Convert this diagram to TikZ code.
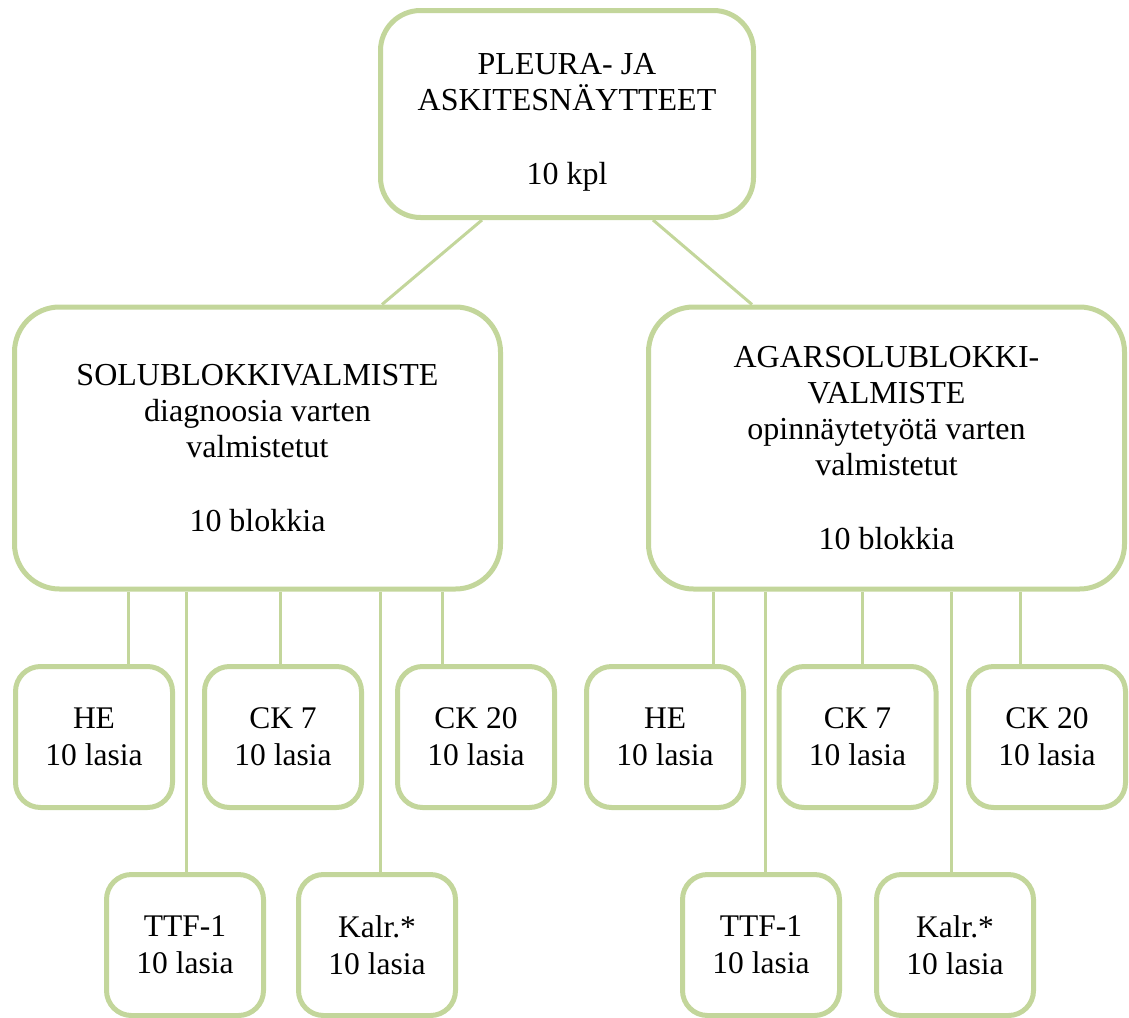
\documentclass[tikz,border=0pt]{standalone}
\usepackage{fontspec}
\setmainfont{Liberation Serif}
\definecolor{boxgreen}{RGB}{195,214,155}

\begin{document}
\begin{tikzpicture}[x=1pt,y=-1pt,-]
    \tikzstyle{bigbox}=[rectangle,draw=boxgreen,line width=5pt,fill=white,rounded corners=45pt,align=center,inner sep=0pt,font=\fontsize{32}{36}\selectfont]
    \tikzstyle{glass}=[bigbox,rounded corners=25pt,minimum width=157pt,minimum height=141pt,font=\fontsize{31.5}{37}\selectfont]
    \tikzstyle{link}=[draw=boxgreen,line width=3pt]
    \useasboundingbox (0,0) rectangle (1129,1017);

    \node[bigbox,rounded corners=40pt,minimum width=373pt,minimum height=207pt] (top) at (567,114)
        {\rule{0pt}{37pt}PLEURA- JA\\ASKITESNÄYTTEET\\[38pt]10 kpl};
    \node[bigbox,minimum width=486pt,minimum height=282pt] (solu) at (257.5,448)
        {SOLUBLOKKIVALMISTE\\diagnoosia varten\\valmistetut\\[38pt]10 blokkia};
    \node[bigbox,minimum width=476pt,minimum height=282pt] (agar) at (886.5,448)
        {AGARSOLUBLOKKI-\\VALMISTE\\opinnäytetyötä varten\\valmistetut\\[38pt]10 blokkia};

    \draw[link] ([xshift=-85pt]top.south) -- ([xshift=124.5pt]solu.north);
    \draw[link] ([xshift=86pt]top.south) -- ([xshift=-134.5pt]agar.north);

    % stains, one box per glass series
    \foreach \name/\x/\y/\stain in {S-he/94/737/HE, S-ck7/283/737/CK 7, S-ck20/476/737/CK 20,
            S-ttf/185/945/TTF-1, S-kalr/377/945/Kalr.*,
            A-he/665/737/HE, A-ck7/857.5/737/CK 7, A-ck20/1047/737/CK 20,
            A-ttf/761/945/TTF-1, A-kalr/955/945/Kalr.*}
        \node[glass] (\name) at (\x,\y) {\stain\\10 lasia};

    \foreach \name/\dx/\parent in {S-he/34/solu, S-ttf/1/solu, S-ck7/-3/solu, S-kalr/3/solu, S-ck20/-34/solu,
            A-he/48/agar, A-ttf/4/agar, A-ck7/4.5/agar, A-kalr/-3.5/agar, A-ck20/-27/agar}
    {
        \coordinate (\name-top) at ([xshift=\dx pt]\name.north);
        \draw[link] (\name-top) -- (\name-top |- \parent.south);
    }
\end{tikzpicture}
\end{document}
